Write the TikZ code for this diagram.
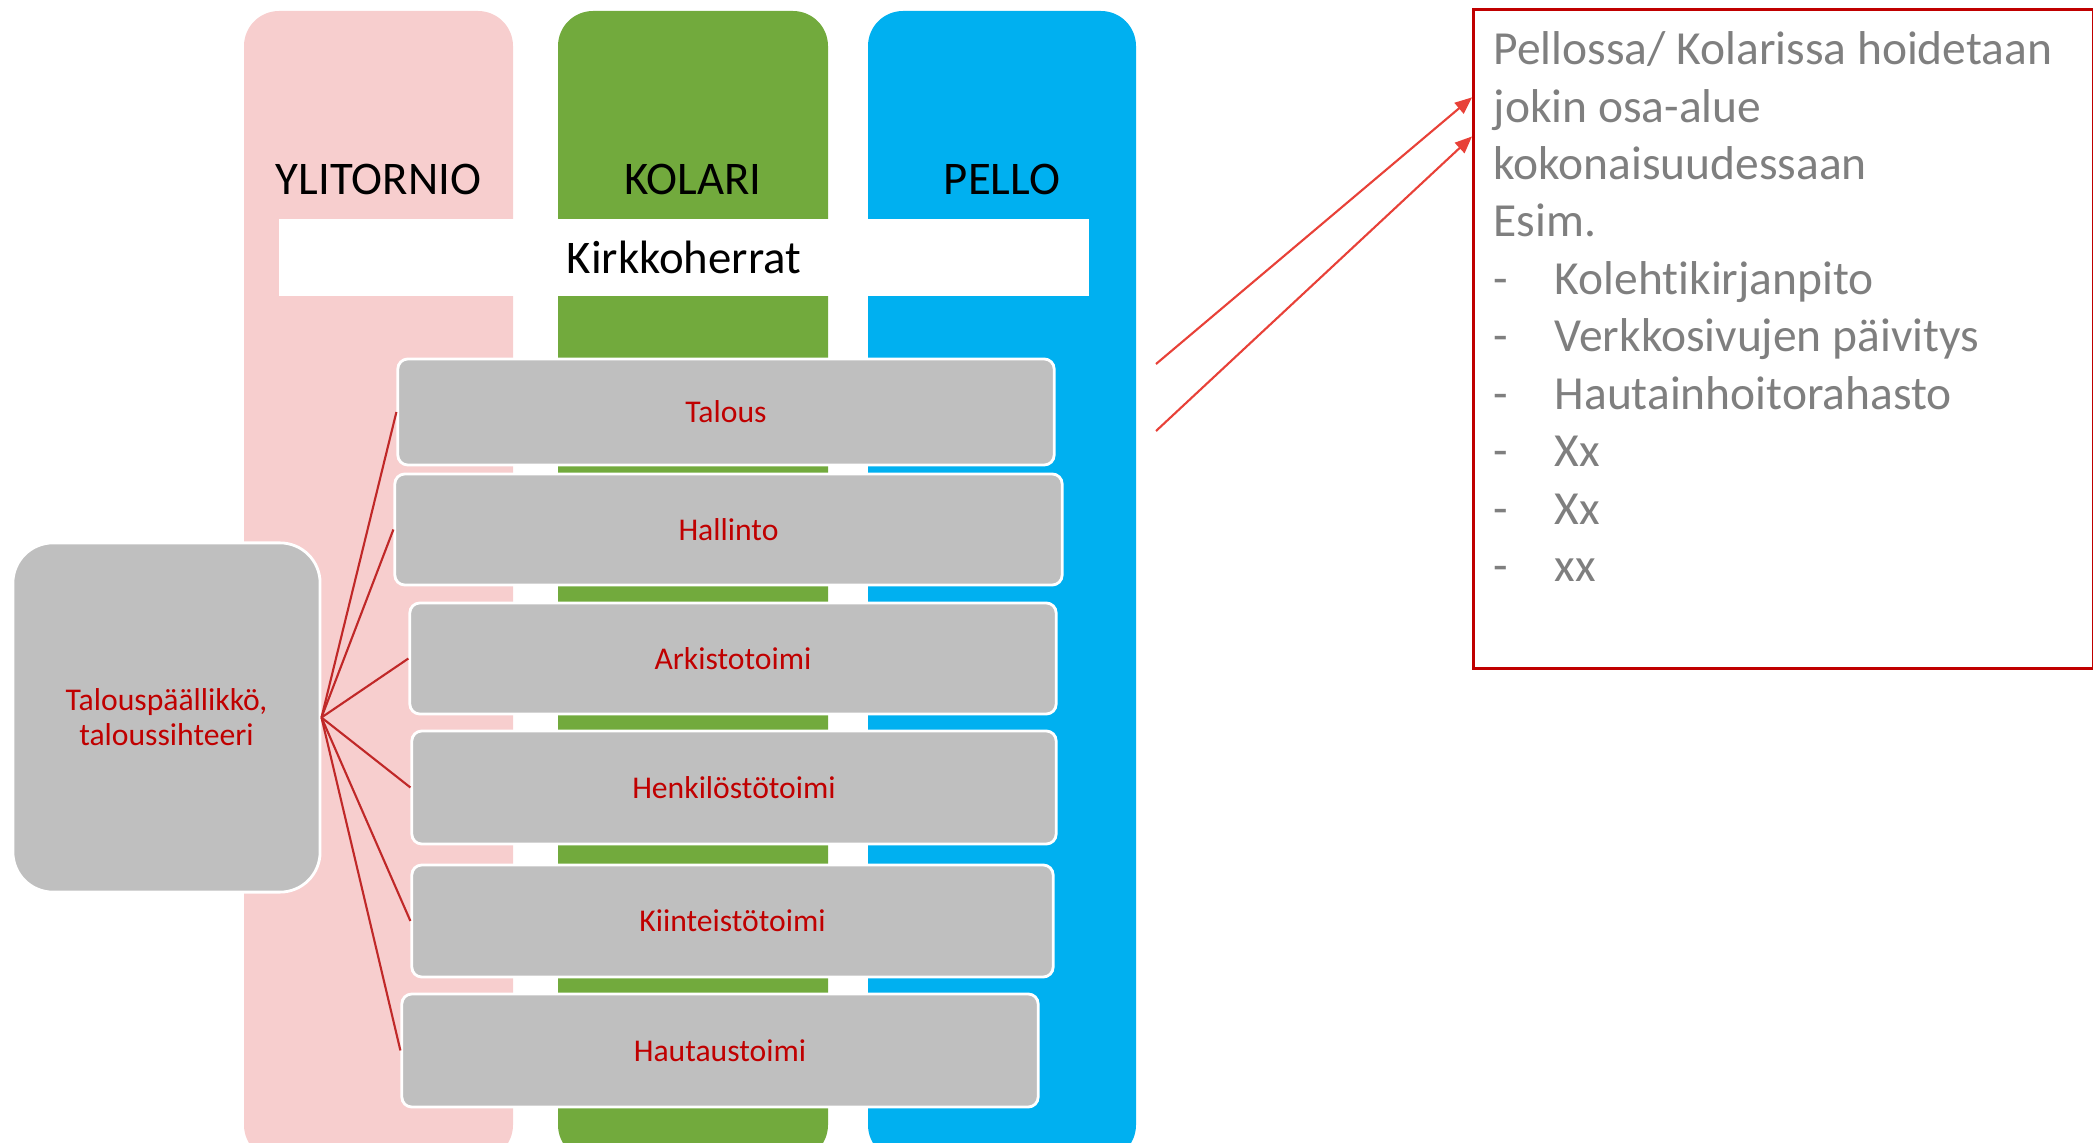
\documentclass[tikz,border=0pt]{standalone}
\usepackage{fontspec}
\setmainfont{Carlito}[Ligatures=NoCommon]
\usetikzlibrary{calc,arrows.meta}
\definecolor{ylipink}{RGB}{247,206,206}
\definecolor{kolgreen}{RGB}{114,170,61}
\definecolor{pelblue}{RGB}{0,176,240}
\definecolor{unitgray}{RGB}{191,191,191}
\definecolor{unitred}{RGB}{192,0,0}
\definecolor{linkred}{RGB}{192,40,40}
\definecolor{arrowred}{RGB}{232,65,56}
\definecolor{notegray}{RGB}{127,127,127}
\tikzset{
  unit/.style={draw=white,line width=0.8pt,fill=unitgray,rounded corners=0.1cm,text=unitred,
    font=\fontsize{9}{10}\selectfont,align=center,inner sep=0pt},
  coltitle/.style={font=\fontsize{13.3}{16}\selectfont,text=black,inner sep=0pt},
  link/.style={linkred,line width=0.6pt},
  pointer/.style={arrowred,line width=0.6pt,-{Triangle[length=0.17cm,width=0.14cm]}},
  notebox/.style={draw=unitred,line width=0.8pt,inner sep=0pt,anchor=north west},
}

\begin{document}
\begin{tikzpicture}[x=0.01cm,y=-0.01cm]
  \useasboundingbox (0,0) rectangle (2093,1143);
  \clip (0,0) rectangle (2093,1143);
  % seurakunnat
  \foreach \col/\xa/\xb/\name/\txt in {ylipink/244/513/yli/YLITORNIO,kolgreen/558/828/kol/KOLARI,pelblue/868/1136/pel/PELLO}{
    \fill[\col,rounded corners=0.35cm] (\xa,11) rectangle (\xb,1160);
    \node[coltitle] (\name) at ({(\xa+\xb)/2},179) {\txt};
  }
  \node[coltitle,fill=white,minimum width=8.1cm,minimum height=0.77cm] (kirkko) at (684,257.5) {Kirkkoherrat};
  % tehtavat
  \foreach \name/\txt/\x/\y/\w/\h in {talous/Talous/726/412/6.56/1.06,hallinto/Hallinto/728.5/529.5/6.67/1.11,
      arkisto/Arkistotoimi/733/658.5/6.46/1.11,henkilo/Henkilöstötoimi/734/787.5/6.44/1.13,
      kiinteisto/Kiinteistötoimi/732.5/921/6.41/1.12,hautaus/Hautaustoimi/720/1050.5/6.36/1.13}
    \node[unit,minimum width=\w cm,minimum height=\h cm] (\name) at (\x,\y) {\txt};
  \node[unit,rounded corners=0.4cm,minimum width=3.07cm,minimum height=3.49cm] (chief) at (166.5,717.5) {Talouspäällikkö,\\taloussihteeri};
  \foreach \u in {talous,hallinto,arkisto,henkilo,kiinteisto,hautaus}
    \draw[link] (chief.east) -- (\u.west);
  % huomautus
  \node[notebox,minimum width=6.2cm,minimum height=6.59cm] (note) at (1472,8) {};
  \node[anchor=north west,inner sep=0pt,align=left,text=notegray,font=\fontsize{13.5}{16.33}\selectfont] (notetxt) at (1493,31)
    {Pellossa/ Kolarissa hoidetaan\\jokin osa-alue\\kokonaisuudessaan\\Esim.\\
     \makebox[0.61cm][l]{-}Kolehtikirjanpito\\\makebox[0.61cm][l]{-}Verkkosivujen päivitys\\
     \makebox[0.61cm][l]{-}Hautainhoitorahasto\\\makebox[0.61cm][l]{-}Xx\\\makebox[0.61cm][l]{-}Xx\\\makebox[0.61cm][l]{-}xx};
  \coordinate (from1) at (1156,364);
  \coordinate (from2) at (1156,431);
  \draw[pointer] (from1) -- ($(note.north west)!0.135!(note.south west)$);
  \draw[pointer] (from2) -- ($(note.north west)!0.194!(note.south west)$);
\end{tikzpicture}
\end{document}
